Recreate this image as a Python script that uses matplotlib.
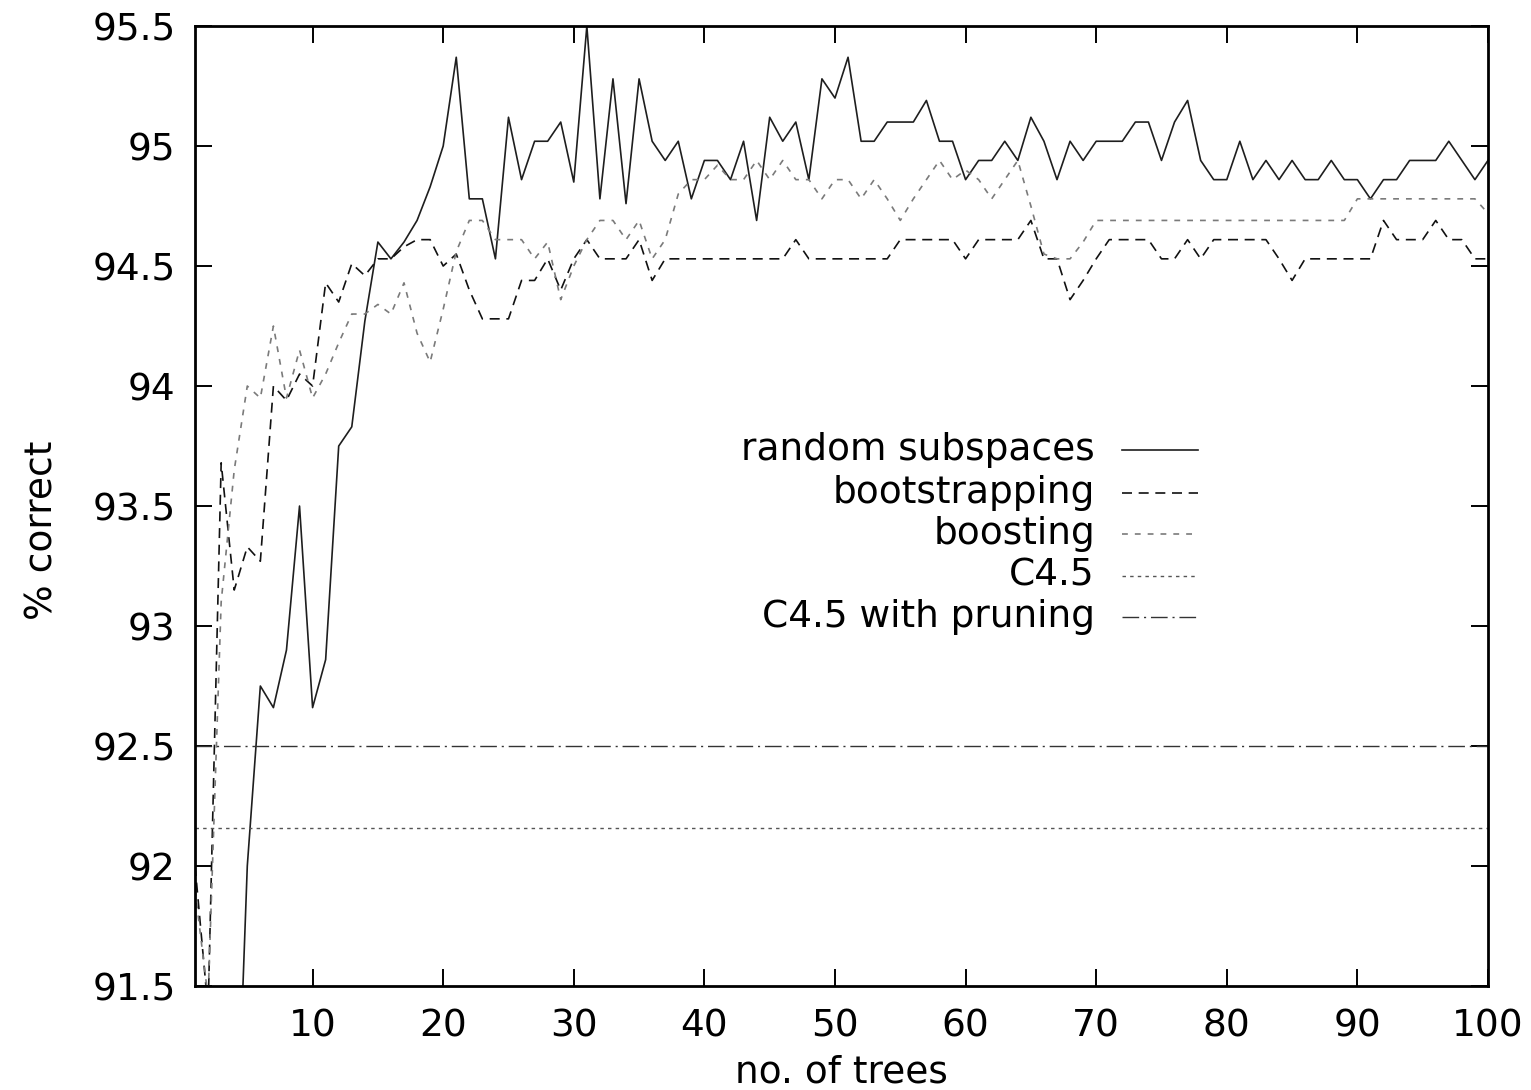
import matplotlib
matplotlib.use("Agg")
import matplotlib.pyplot as plt

plt.rcParams['font.family'] = ['DejaVu Sans']

# ---------------- data ----------------
n_trees = list(range(1, 101))

random_subspaces = [
    89.0, 89.5, 90.0, 90.5, 92.0, 92.75, 92.66, 92.9, 93.5, 92.66,
    92.86, 93.75, 93.83, 94.27, 94.6, 94.53, 94.6, 94.69, 94.83, 95.0,
    95.37, 94.78, 94.78, 94.53, 95.12, 94.86, 95.02, 95.02, 95.1, 94.85,
    95.5, 94.78, 95.28, 94.76, 95.28, 95.02, 94.94, 95.02, 94.78, 94.94,
    94.94, 94.86, 95.02, 94.69, 95.12, 95.02, 95.1, 94.86, 95.28, 95.2,
    95.37, 95.02, 95.02, 95.1, 95.1, 95.1, 95.19, 95.02, 95.02, 94.86,
    94.94, 94.94, 95.02, 94.94, 95.12, 95.02, 94.86, 95.02, 94.94, 95.02,
    95.02, 95.02, 95.1, 95.1, 94.94, 95.1, 95.19, 94.94, 94.86, 94.86,
    95.02, 94.86, 94.94, 94.86, 94.94, 94.86, 94.86, 94.94, 94.86, 94.86,
    94.78, 94.86, 94.86, 94.94, 94.94, 94.94, 95.02, 94.94, 94.86, 94.94,
]

bootstrapping = [
    92.0, 91.4, 93.68, 93.15, 93.33, 93.27, 94.0, 93.94, 94.05, 94.0,
    94.43, 94.35, 94.51, 94.46, 94.53, 94.53, 94.58, 94.61, 94.61, 94.5,
    94.55, 94.4, 94.28, 94.28, 94.28, 94.44, 94.44, 94.53, 94.4, 94.53,
    94.61, 94.53, 94.53, 94.53, 94.61, 94.44, 94.53, 94.53, 94.53, 94.53,
    94.53, 94.53, 94.53, 94.53, 94.53, 94.53, 94.61, 94.53, 94.53, 94.53,
    94.53, 94.53, 94.53, 94.53, 94.61, 94.61, 94.61, 94.61, 94.61, 94.53,
    94.61, 94.61, 94.61, 94.61, 94.69, 94.53, 94.53, 94.36, 94.44, 94.53,
    94.61, 94.61, 94.61, 94.61, 94.53, 94.53, 94.61, 94.53, 94.61, 94.61,
    94.61, 94.61, 94.61, 94.53, 94.44, 94.53, 94.53, 94.53, 94.53, 94.53,
    94.53, 94.69, 94.61, 94.61, 94.61, 94.69, 94.61, 94.61, 94.53, 94.53,
]

boosting = [
    91.9, 91.45, 93.1, 93.65, 94.0, 93.95, 94.25, 93.95, 94.15, 93.95,
    94.05, 94.18, 94.3, 94.3, 94.34, 94.3, 94.43, 94.22, 94.1, 94.32,
    94.56, 94.69, 94.69, 94.61, 94.61, 94.61, 94.53, 94.6, 94.36, 94.5,
    94.61, 94.69, 94.69, 94.61, 94.69, 94.53, 94.61, 94.8, 94.86, 94.86,
    94.92, 94.86, 94.86, 94.94, 94.86, 94.94, 94.86, 94.86, 94.78, 94.86,
    94.86, 94.78, 94.86, 94.78, 94.69, 94.78, 94.86, 94.94, 94.86, 94.9,
    94.86, 94.78, 94.86, 94.94, 94.75, 94.55, 94.53, 94.53, 94.6, 94.69,
    94.69, 94.69, 94.69, 94.69, 94.69, 94.69, 94.69, 94.69, 94.69, 94.69,
    94.69, 94.69, 94.69, 94.69, 94.69, 94.69, 94.69, 94.69, 94.69, 94.78,
    94.78, 94.78, 94.78, 94.78, 94.78, 94.78, 94.78, 94.78, 94.78, 94.72,
]

c45 = 92.16
c45_pruning = 92.5

series_names = ["random subspaces", "bootstrapping", "boosting", "C4.5", "C4.5 with pruning"]
y_ticks = [91.5, 92, 92.5, 93, 93.5, 94, 94.5, 95, 95.5]
y_tick_labels = ["91.5", "92", "92.5", "93", "93.5", "94", "94.5", "95", "95.5"]
x_ticks = [10, 20, 30, 40, 50, 60, 70, 80, 90, 100]
x_tick_labels = ["10", "20", "30", "40", "50", "60", "70", "80", "90", "100"]

# ---------------- styles ----------------
styles = [
    dict(color="#1e1e1e", lw=1.2, ls="-"),
    dict(color="#111111", lw=1.2, dashes=(6.0, 4.0)),
    dict(color="#7a7a7a", lw=1.2, dashes=(3.5, 4.2)),
    dict(color="#555555", lw=1.0, dashes=(2.5, 3.0)),
    dict(color="#333333", lw=1.0, dashes=(12.0, 3.5, 1.5, 3.5)),
]

FS = 27

fig = plt.figure(figsize=(15.31, 10.90), dpi=100)
ax = fig.add_axes([0.1274, 0.0954, 0.8445, 0.8807])

ys = [random_subspaces, bootstrapping, boosting,
      [c45] * len(n_trees), [c45_pruning] * len(n_trees)]
for y, st in zip(ys, styles):
    ax.plot(n_trees, y, **st)

ax.set_xlim(1, 100)
ax.set_ylim(91.5, 95.5)
ax.set_xticks(x_ticks)
ax.set_xticklabels(x_tick_labels)
ax.set_yticks(y_ticks)
ax.set_yticklabels(y_tick_labels)

ax.tick_params(axis="both", which="major", direction="in", length=12, width=1.4,
               top=True, right=True, labelsize=FS)
ax.tick_params(axis="x", pad=16)
ax.tick_params(axis="y", pad=14)
for sp in ax.spines.values():
    sp.set_linewidth(2.0)

ax.set_xlabel("no. of trees", fontsize=FS, va="center")
ax.xaxis.set_label_coords(0.5, -0.0896)
ax.set_ylabel("% correct", fontsize=FS, va="center")
ax.yaxis.set_label_coords(-0.118, 0.475)

# gnuplot-style key: right-aligned text with sample to the right
text_x = 0.696
line_x0, line_x1 = 0.717, 0.776
row_y = [0.5585, 0.5135, 0.4705, 0.4275, 0.3840]
for name, st, yy in zip(series_names, styles, row_y):
    ax.text(text_x, yy, name, transform=ax.transAxes, ha="right", va="center",
            fontsize=FS)
    ax.plot([line_x0, line_x1], [yy, yy], transform=ax.transAxes, clip_on=False, **st)

fig.savefig("out.png", dpi=100)
